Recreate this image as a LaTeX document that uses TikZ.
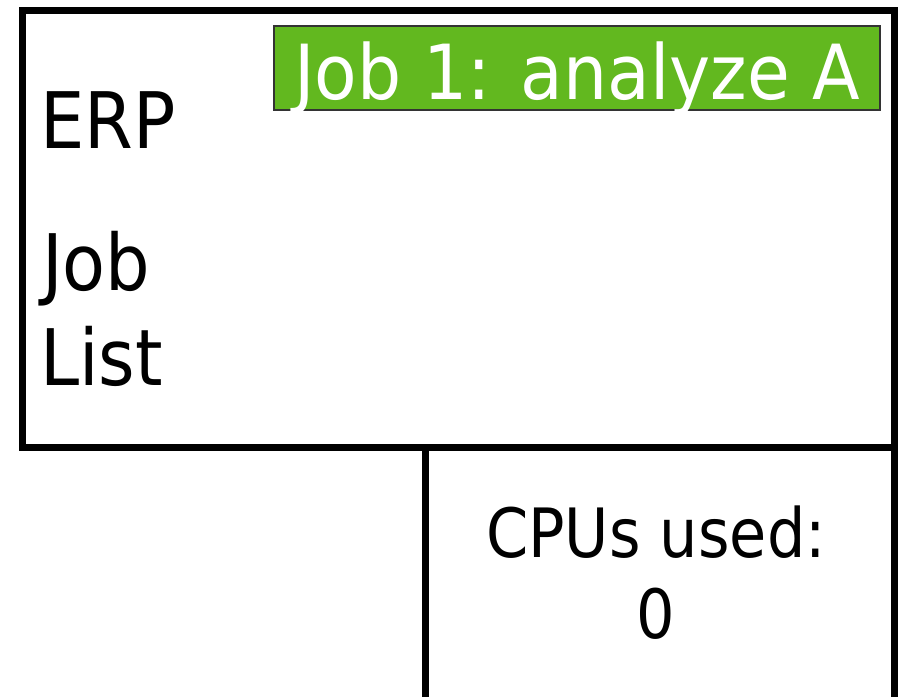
\documentclass[tikz,border=0pt]{standalone}
\usepackage{fontspec}
\newfontfamily\diafont[FakeStretch=0.9]{DejaVu Sans}
\newfontfamily\diafontj[FakeStretch=0.915]{DejaVu Sans}
\newfontfamily\diafontn[FakeStretch=0.89]{DejaVu Sans}
\definecolor{jobgreen}{RGB}{98,184,31}
\begin{document}
\begin{tikzpicture}[x=1pt,y=-1pt,
  panel/.style={draw=black,line width=7pt,inner sep=0pt},
  biglabel/.style={font=\diafont\fontsize{78}{95}\selectfont,inner sep=0pt,anchor=base west},
  cpulabel/.style={font=\diafontn\fontsize{68}{81}\selectfont,inner sep=0pt,anchor=base},
  jobbox/.style={fill=jobgreen,draw=black!80,line width=1.2pt,inner sep=0pt,
    text=white,font=\diafontj\fontsize{76}{90}\selectfont,
    text height=62pt,text depth=0pt}]
\useasboundingbox (0,0) rectangle (901,696);
\clip (0,0) rectangle (901,696);
\fill[white] (0,0) rectangle (901,696);
% ERP panel
\draw[panel] (22,10) rectangle (894,447);
% CPU panel
\draw[panel] (425,447) rectangle (894,700);
% labels
\node[biglabel] (erp) at (40,148) {ERP};
\node[biglabel] (joblist1) at (42,290) {Job};
\node[biglabel] (joblist2) at (40,385) {List};
\node[jobbox,minimum width=606pt,minimum height=84pt] (job1) at (577,68) {Job 1: analyze A};
\node[cpulabel] (cpus) at (656,557) {CPUs used:};
\node[cpulabel] (cpun) at (656,638) {0};
\end{tikzpicture}
\end{document}
